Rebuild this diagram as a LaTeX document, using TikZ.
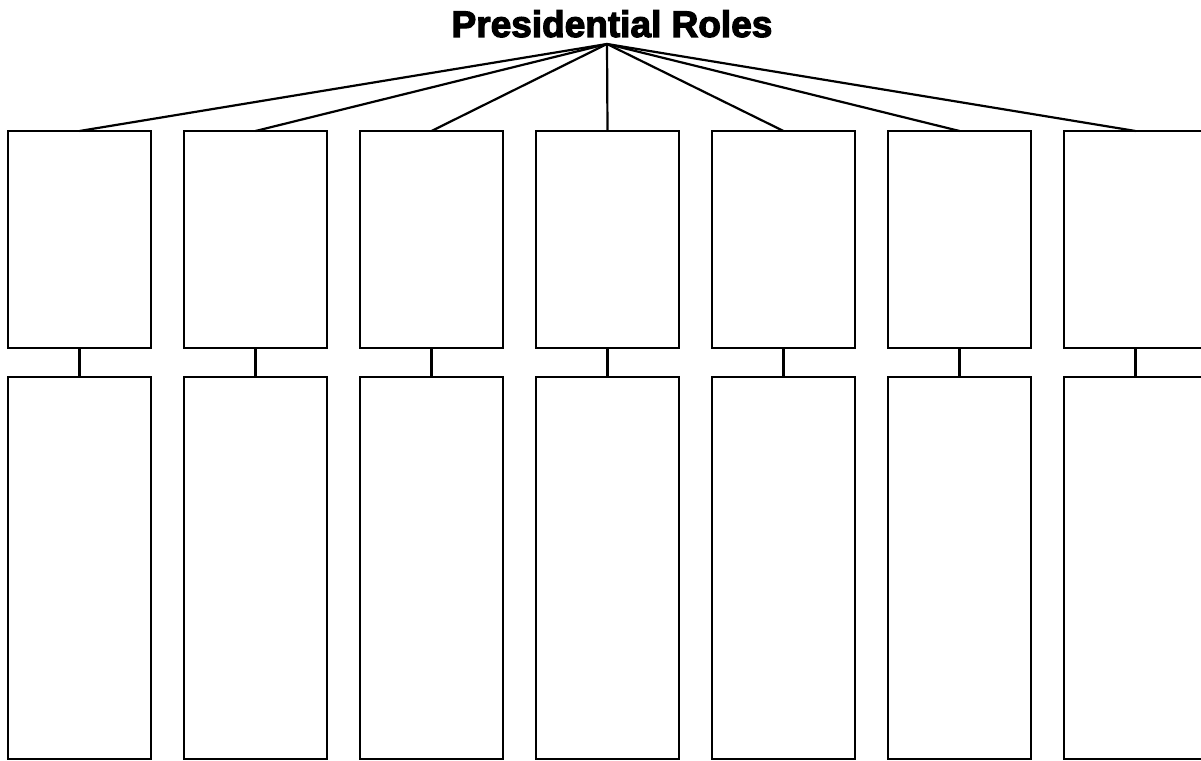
\documentclass[tikz,border=0pt]{standalone}
\usepackage{fontspec}
\usepackage{tikz}
\usetikzlibrary{positioning}
\newfontfamily\titlefont[FakeBold=3.2]{Liberation Sans Bold}
\tikzset{
  rolebox/.style={rectangle, draw, line width=1.4pt, minimum width=143pt,
                  minimum height=217pt, inner sep=0pt, outer sep=0pt},
  notebox/.style={rectangle, draw, line width=1.4pt, minimum width=143pt,
                  minimum height=382pt, inner sep=0pt, outer sep=0pt},
  link/.style={line width=2.2pt},
}
\begin{document}
\begin{tikzpicture}[x=1pt, y=-1pt]
  \useasboundingbox (0,0) rectangle (1201,760);
  \clip (0,0) rectangle (1201,760);
  \node[font=\titlefont\fontsize{37}{40}\selectfont, anchor=base] (title) at (612,37) {Presidential Roles};
  \coordinate (hub) at (607,44);
  \foreach \i in {0,...,6}{
    \node[rolebox, anchor=north west] (role\i) at (8+176*\i,131) {};
    \node[notebox, anchor=north west] (note\i) at (8+176*\i,377) {};
    \draw[link] (hub) -- (role\i.north);
    \draw[link] (role\i.south) -- (note\i.north);
  }
\end{tikzpicture}
\end{document}
